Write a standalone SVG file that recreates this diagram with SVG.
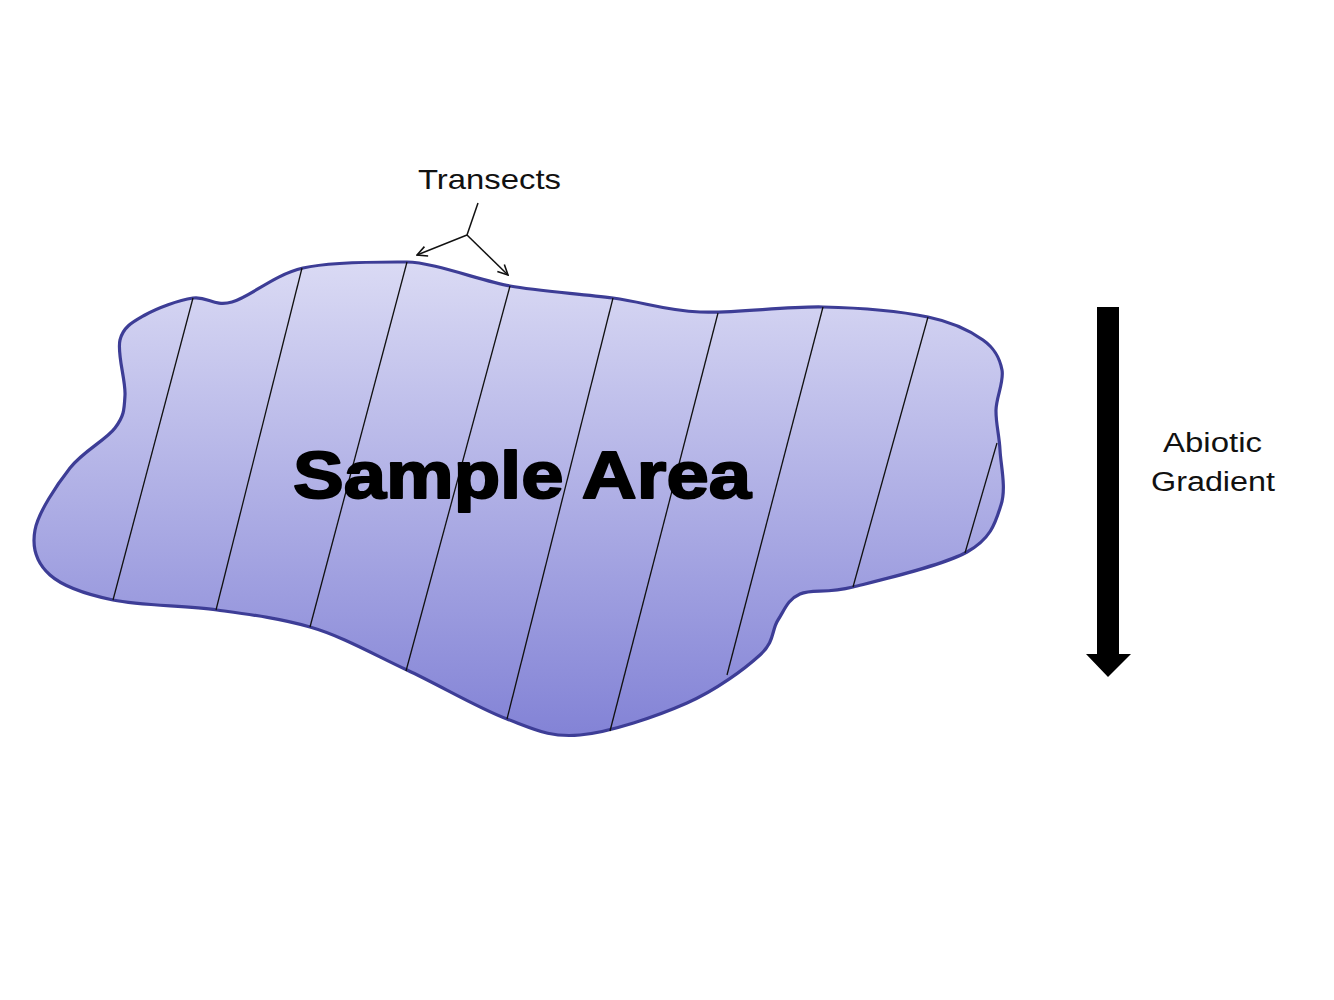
<svg xmlns="http://www.w3.org/2000/svg" width="1334" height="1000" viewBox="0 0 1334 1000">
<defs>
<linearGradient id="fillg" gradientUnits="userSpaceOnUse" x1="0" y1="262" x2="0" y2="735">
<stop offset="0" stop-color="#dadaf4"/>
<stop offset="1" stop-color="#8383d6"/>
</linearGradient>
<marker id="open" viewBox="0 0 12 12" refX="11" refY="6" markerWidth="12" markerHeight="12" markerUnits="userSpaceOnUse" orient="auto">
<path d="M1,1 L11,6 L1,11" fill="none" stroke="#111" stroke-width="1.6"/>
</marker>
<style>
.lbl{font-family:"Liberation Sans",Arial,sans-serif;fill:#111;}
.transect{stroke:#111;stroke-width:1.3;fill:none;}
.ptr{stroke:#111;stroke-width:1.5;fill:none;}
</style>
</defs>
<rect width="1334" height="1000" fill="#ffffff"/>
<g id="sample-area">
<path d="M120,340 C123.3,326.7 132.8,322 145,315 C157.2,308 178.5,300.2 193,298 C207.5,295.8 213.7,307 232,302 C250.3,297 273.8,274.7 303,268 C332.2,261.3 382,262 407,262 C432,262 482,281 510,286 C538,291.2 581.3,293.7 613,298 C644.7,302.3 665,310.5 700,312 C735,313.5 785,306.2 823,307 C861,307.8 901.3,311.5 928,317 C954.7,322.5 970.7,331.2 983,340 C995.3,348.8 999.8,358.3 1002,370 C1004.2,381.7 996.3,396.7 996,410 C995.7,423.3 999.2,434.2 1000,450 C1000.8,465.8 1006.5,488 1001,505 C995.5,522 991.7,538.3 967,552 C942.3,565.7 880.8,580 853,587 C825.2,594 812.5,588.5 800,594 C787.5,599.5 784.7,609.8 778,620 C771.3,630.2 775.2,641.2 760,655 C744.8,668.8 717,689.7 687,703 C657,716.3 610,732.3 580,735 C550,737.7 535.8,729.8 507,719 C478.2,708.2 439.8,685.3 407,670 C374.2,654.7 341.7,636 310,627 C278.3,618 249.8,614.5 217,610 C184.2,605.5 140.8,605.8 113,600 C85.2,594.2 63,586.7 50,575 C37,563.3 31.7,547.8 35,530 C38.3,512.2 56.7,485 70,468 C83.3,451 105.8,440.2 115,428 C124.2,415.8 124.2,409.7 125,395 C125.8,380.3 116.7,353.3 120,340 Z" fill="url(#fillg)" stroke="#3d3d96" stroke-width="3.2"/>
<g id="transects">
<line class="transect" x1="193" y1="298" x2="113" y2="600"/>
<line class="transect" x1="302" y1="268" x2="216" y2="610"/>
<line class="transect" x1="407" y1="262" x2="310" y2="627"/>
<line class="transect" x1="510" y1="286" x2="406" y2="671"/>
<line class="transect" x1="613" y1="298" x2="507" y2="719"/>
<line class="transect" x1="718" y1="313" x2="610" y2="731"/>
<line class="transect" x1="823" y1="307" x2="727" y2="675"/>
<line class="transect" x1="928" y1="317" x2="853" y2="587"/>
<line class="transect" x1="997" y1="443" x2="965" y2="553"/>
</g>
<text x="293" y="498" font-family="'Liberation Sans',Arial,sans-serif" font-size="66" font-weight="bold" fill="#000" stroke="#000" stroke-width="2" stroke-linejoin="round" textLength="458" lengthAdjust="spacingAndGlyphs">Sample Area</text>
</g>
<g id="transects-label">
<text class="lbl" x="418" y="189" font-size="28" textLength="143" lengthAdjust="spacingAndGlyphs">Transects</text>
</g>
<g id="abiotic-gradient">
<polygon points="1097,307 1119,307 1119,654 1131,654 1108,677 1086,654 1097,654" fill="#000"/>
<text class="lbl" x="1163" y="452" font-size="27" textLength="99" lengthAdjust="spacingAndGlyphs">Abiotic</text>
<text class="lbl" x="1151" y="491" font-size="27" textLength="124" lengthAdjust="spacingAndGlyphs">Gradient</text>
</g>
<g id="connectors">
<line class="ptr" x1="478" y1="203" x2="467" y2="235"/>
<line class="ptr" x1="467" y1="235" x2="417" y2="255" marker-end="url(#open)"/>
<line class="ptr" x1="467" y1="235" x2="508" y2="275" marker-end="url(#open)"/>
</g>
</svg>
